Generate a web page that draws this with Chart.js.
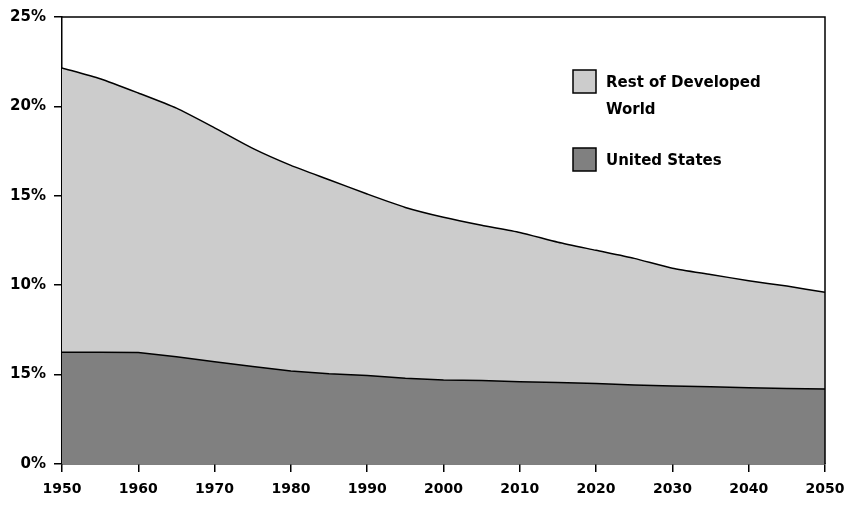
<!DOCTYPE html>
<html>
<head>
<meta charset="utf-8">
<script src="https://cdn.jsdelivr.net/npm/chart.js@4/dist/chart.umd.min.js"></script>
<style>
  html, body { margin: 0; padding: 0; background: #fff; }
  #wrap { width: 854px; height: 505px; position: relative; }
</style>
</head>
<body>
<div id="wrap"><canvas id="chart" width="854" height="505"></canvas></div>
<script>
// Datos (porcentaje)
const years = [1950,1955,1960,1965,1970,1975,1980,1985,1990,1995,2000,2005,2010,2015,2020,2025,2030,2035,2040,2045,2050];
const developedWorld = [22.15,21.55,20.75,19.9,18.8,17.65,16.7,15.9,15.1,14.35,13.8,13.35,12.95,12.4,11.95,11.5,10.95,10.6,10.25,9.95,9.6];
const unitedStates = [6.25,6.25,6.24,6.0,5.72,5.45,5.2,5.05,4.95,4.8,4.7,4.67,4.6,4.56,4.5,4.42,4.36,4.32,4.26,4.22,4.2];
const yTickValues = [0,5,10,15,20,25];
const yTickLabels = ['0%','15%','10%','15%','20%','25%'];
const seriesNames = ['Rest of Developed World', 'United States'];

const FONT = "'DejaVu Sans', sans-serif";

function pts(vals) {
  return years.map((y, i) => ({ x: y, y: vals[i] }));
}

// Marco superior/derecho + leyenda dibujada a mano
const framePlugin = {
  id: 'frame',
  afterDraw(chart) {
    const { ctx, chartArea: a } = chart;
    ctx.save();
    ctx.strokeStyle = '#000';
    ctx.lineWidth = 1.5;
    ctx.beginPath();
    ctx.moveTo(a.left, a.top);
    ctx.lineTo(a.right, a.top);
    ctx.lineTo(a.right, a.bottom);
    ctx.stroke();

    // leyenda
    const items = [
      { fill: '#cccccc', lines: ['Rest of Developed', 'World'], y: 70 },
      { fill: '#808080', lines: ['United States'], y: 148 }
    ];
    ctx.font = 'bold 15px ' + FONT;
    ctx.textBaseline = 'middle';
    items.forEach(it => {
      ctx.fillStyle = it.fill;
      ctx.fillRect(573, it.y, 23, 23);
      ctx.strokeStyle = '#000';
      ctx.lineWidth = 1.5;
      ctx.strokeRect(573, it.y, 23, 23);
      ctx.fillStyle = '#000';
      it.lines.forEach((t, k) => ctx.fillText(t, 606, it.y + 13 + k * 27));
    });
    ctx.restore();
  }
};

const ctx = document.getElementById('chart').getContext('2d');
new Chart(ctx, {
  type: 'line',
  data: {
    datasets: [
      {
        label: seriesNames[1],
        data: pts(unitedStates),
        backgroundColor: '#808080',
        borderColor: '#000',
        borderWidth: 1.5,
        fill: 'origin',
        pointRadius: 0,
        tension: 0,
        order: 0
      },
      {
        label: seriesNames[0],
        data: pts(developedWorld),
        backgroundColor: '#cccccc',
        borderColor: '#000',
        borderWidth: 1.5,
        fill: 'origin',
        pointRadius: 0,
        tension: 0.2,
        order: 1
      }
    ]
  },
  options: {
    responsive: false,
    animation: false,
    layout: { padding: { top: 15, right: 29, left: 0, bottom: 0 } },
    plugins: { legend: { display: false }, tooltip: { enabled: false } },
    scales: {
      x: {
        type: 'linear',
        min: 1950, max: 2050,
        afterFit: s => { s.height = 41; },
        border: { display: true, color: '#000', width: 1.5 },
        grid: { display: true, drawOnChartArea: false, drawTicks: true, tickLength: 8, color: '#000', lineWidth: 1.5 },
        ticks: {
          stepSize: 10,
          padding: 9,
          color: '#000',
          font: { family: FONT, size: 14, weight: 'bold' },
          callback: v => String(v)
        }
      },
      y: {
        min: 0, max: 25,
        afterFit: s => { s.width = 62; },
        afterBuildTicks: s => { s.ticks = yTickValues.map(v => ({ value: v })); },
        border: { display: true, color: '#000', width: 1.5 },
        grid: { display: true, drawOnChartArea: false, drawTicks: true, tickLength: 8, color: '#000', lineWidth: 1.5 },
        ticks: {
          padding: 8,
          color: '#000',
          font: { family: FONT, size: 15, weight: 'bold' },
          callback: v => yTickLabels[yTickValues.indexOf(v)]
        }
      }
    }
  },
  plugins: [framePlugin]
});
</script>
</body>
</html>
